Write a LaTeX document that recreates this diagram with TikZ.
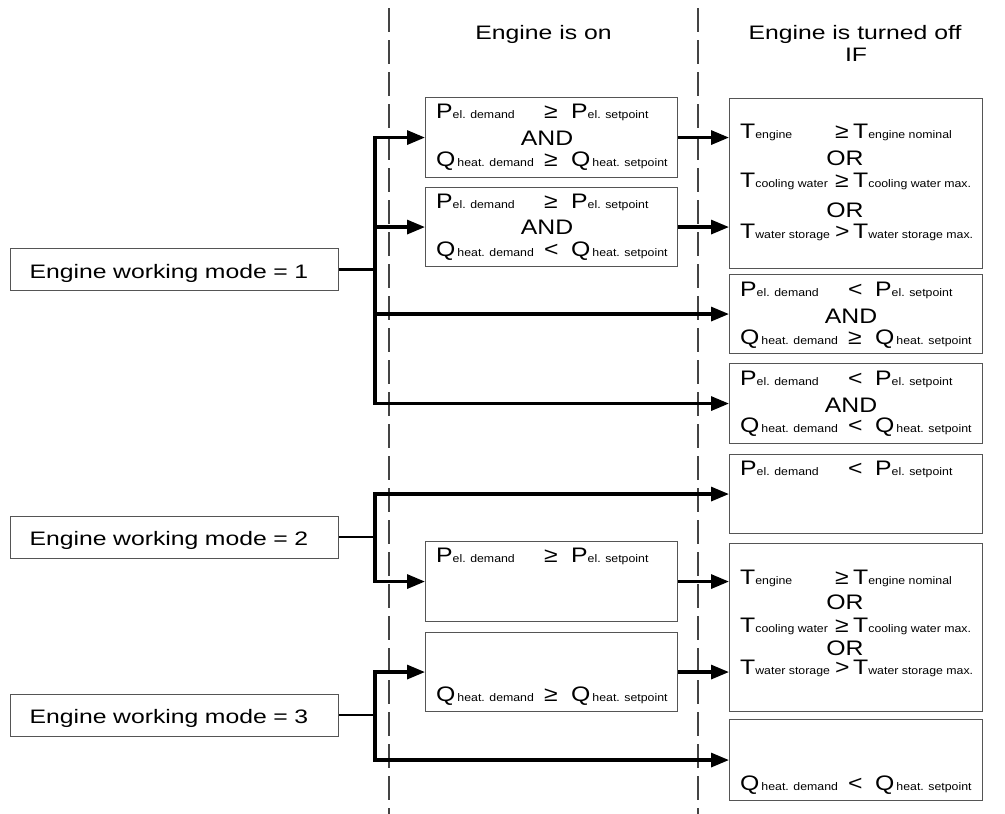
\documentclass[tikz,border=0pt]{standalone}
\usepackage{fontspec}
\setmainfont{Liberation Sans}
\newfontfamily\labfont[FakeStretch=1.27]{Liberation Sans}
\newfontfamily\letfont[FakeStretch=1.18]{Liberation Sans}
\newfontfamily\subfont[FakeStretch=1.12]{Liberation Sans}
\usetikzlibrary{arrows.meta,calc}
\definecolor{boxgray}{HTML}{555555}
\definecolor{sepgray}{HTML}{444444}
\newcommand\bigf{\labfont\fontsize{19.5}{22}\selectfont}
\newcommand\midf{\letfont\fontsize{21}{23}\selectfont}
\newcommand\smf{\subfont\fontsize{11}{13}\selectfont}
\newcommand\msym[2]{{\midf #1}{\smf #2}}
% #1 name, #2 box, #3 dy, #4 left, #5 rel x, #6 rel, #7 right x, #8 right
\newcommand\condrow[8]{%
  \node[txt] (#1a) at ($(#2.north west)+(11,#3)$) {#4};
  \node[txt] (#1b) at ($(#2.north west)+(#5,#3)$) {\midf #6};
  \node[txt] (#1c) at ($(#2.north west)+(#7,#3)$) {#8};}
\tikzset{
  box/.style={draw=boxgray, line width=1.1pt, inner sep=0pt, anchor=north west},
  modebox/.style={box, inner xsep=19pt, inner ysep=0pt, text width=290pt, align=left,
    minimum height=42pt, text height=17pt, text depth=0pt, font=\bigf},
  txt/.style={inner sep=0pt, anchor=base west},
  ctxt/.style={inner sep=0pt, anchor=base},
  conn/.style={line width=3.2pt, draw=black},
  stub/.style={line width=2.6pt, draw=black},
  arr/.style={-{Triangle[length=18pt,width=14pt]}},
  arrtwo/.style={{Triangle[length=18pt,width=14pt]}-{Triangle[length=18pt,width=14pt]}},
  sepline/.style={draw=sepgray, line width=1.2pt, dash pattern=on 24pt off 8pt},
}
\begin{document}
\begin{tikzpicture}[x=1pt,y=-1pt]
\useasboundingbox (0,0) rectangle (1005,814);

% separators
\coordinate (s1t) at (389,8);
\coordinate (s1b) at (389,814);
\coordinate (s2t) at (698,8);
\coordinate (s2b) at (698,814);
\draw[sepline] (s1t) -- (s1b);
\draw[sepline] (s2t) -- (s2b);

% headings
\node[ctxt, font=\bigf] (h1) at (543.5,39) {Engine is on};
\node[ctxt, font=\bigf] (h2) at (855,39) {Engine is turned off};
\node[ctxt, font=\bigf] (h3) at (856,61.7) {IF};

% mode boxes
\node[modebox] (mode1) at (10,248) {Engine working mode = 1};
\node[modebox] (mode2) at (10,515.5) {Engine working mode = 2};
\node[modebox] (mode3) at (10,693.5) {Engine working mode = 3};

% middle boxes
\node[box, minimum width=252pt, minimum height=80pt] (m1) at (425,97) {};
\node[box, minimum width=252pt, minimum height=79pt] (m2) at (425,187) {};
\node[box, minimum width=252pt, minimum height=80pt] (m3) at (425,541) {};
\node[box, minimum width=252pt, minimum height=79pt] (m4) at (425,632) {};

% right boxes
\node[box, minimum width=253pt, minimum height=170pt] (r1) at (729,97.5) {};
\node[box, minimum width=253pt, minimum height=79pt] (r3) at (729,274) {};
\node[box, minimum width=253pt, minimum height=80pt] (r4) at (729,363) {};
\node[box, minimum width=253pt, minimum height=79pt] (r5) at (729,454) {};
\node[box, minimum width=253pt, minimum height=168pt] (r6) at (729,543) {};
\node[box, minimum width=253pt, minimum height=81pt] (r7) at (729,719) {};

% texts: middle boxes
\condrow{m1p}{m1}{21.5}{\msym{P}{el. demand}}{119}{≥}{146}{\msym{P}{el. setpoint}}
\node[ctxt, font=\midf] (m1and) at ($(m1.north west)+(122,48)$) {AND};
\condrow{m1q}{m1}{69.5}{\msym{Q\kern2pt}{heat. demand}}{119}{≥}{146}{\msym{Q\kern2pt}{heat. setpoint}}

\condrow{m2p}{m2}{21.5}{\msym{P}{el. demand}}{119}{≥}{146}{\msym{P}{el. setpoint}}
\node[ctxt, font=\midf] (m2and) at ($(m2.north west)+(122,47.5)$) {AND};
\condrow{m2q}{m2}{69}{\msym{Q\kern2pt}{heat. demand}}{119}{<}{146}{\msym{Q\kern2pt}{heat. setpoint}}

\condrow{m3p}{m3}{21.5}{\msym{P}{el. demand}}{119}{≥}{146}{\msym{P}{el. setpoint}}

\condrow{m4q}{m4}{69}{\msym{Q\kern2pt}{heat. demand}}{119}{≥}{146}{\msym{Q\kern2pt}{heat. setpoint}}

% texts: right boxes
\condrow{r1a}{r1}{41}{\msym{T}{engine}}{106}{≥}{124}{\msym{T}{engine nominal}}
\node[ctxt, font=\midf] (r1or1) at ($(r1.north west)+(116,67.5)$) {OR};
\condrow{r1b}{r1}{89.5}{\msym{T}{cooling water}}{106}{≥}{124}{\msym{T}{cooling water max.}}
\node[ctxt, font=\midf] (r1or2) at ($(r1.north west)+(116,119.5)$) {OR};
\condrow{r1c}{r1}{140.5}{\msym{T}{water storage}}{106}{>}{124}{\msym{T}{water storage max.}}

\condrow{r3p}{r3}{22}{\msym{P}{el. demand}}{119}{<}{146}{\msym{P}{el. setpoint}}
\node[ctxt, font=\midf] (r3and) at ($(r3.north west)+(122,49.5)$) {AND};
\condrow{r3q}{r3}{70}{\msym{Q\kern2pt}{heat. demand}}{119}{≥}{146}{\msym{Q\kern2pt}{heat. setpoint}}

\condrow{r4p}{r4}{22}{\msym{P}{el. demand}}{119}{<}{146}{\msym{P}{el. setpoint}}
\node[ctxt, font=\midf] (r4and) at ($(r4.north west)+(122,49.5)$) {AND};
\condrow{r4q}{r4}{69.5}{\msym{Q\kern2pt}{heat. demand}}{119}{<}{146}{\msym{Q\kern2pt}{heat. setpoint}}

\condrow{r5p}{r5}{21}{\msym{P}{el. demand}}{119}{<}{146}{\msym{P}{el. setpoint}}

\condrow{r6a}{r6}{41.5}{\msym{T}{engine}}{106}{≥}{124}{\msym{T}{engine nominal}}
\node[ctxt, font=\midf] (r6or1) at ($(r6.north west)+(116,66)$) {OR};
\condrow{r6b}{r6}{89}{\msym{T}{cooling water}}{106}{≥}{124}{\msym{T}{cooling water max.}}
\node[ctxt, font=\midf] (r6or2) at ($(r6.north west)+(116,112)$) {OR};
\condrow{r6c}{r6}{131.5}{\msym{T}{water storage}}{106}{>}{124}{\msym{T}{water storage max.}}

\condrow{r7q}{r7}{71}{\msym{Q\kern2pt}{heat. demand}}{119}{<}{146}{\msym{Q\kern2pt}{heat. setpoint}}

% buses
\coordinate (bus) at (375,0);

% mode 1
\draw[stub] (mode1.east) -- (bus |- mode1.east);
\draw[conn, arrtwo] (m1.west) -- (bus |- m1.west) -- (bus |- r4.west) -- (r4.west);
\draw[conn, arr] (bus |- m2.west) -- (m2.west);
\draw[conn, arr] (bus |- r3.west) -- (r3.west);

% mode 2
\draw[stub] (mode2.east) -- (bus |- mode2.east);
\draw[conn, arrtwo] (r5.west) -- (bus |- r5.west) -- (bus |- m3.west) -- (m3.west);

% mode 3
\draw[stub] (mode3.east) -- (bus |- mode3.east);
\draw[conn, arrtwo] (m4.west) -- (bus |- m4.west) -- (bus |- r7.west) -- (r7.west);

% middle to right
\draw[conn, arr] (m1.east) -- (m1.east -| r1.west);
\draw[conn, arr] (m2.east) -- (m2.east -| r1.west);
\draw[conn, arr] (m3.east) -- (m3.east -| r6.west);
\draw[conn, arr] (m4.east) -- (m4.east -| r6.west);
\end{tikzpicture}
\end{document}
